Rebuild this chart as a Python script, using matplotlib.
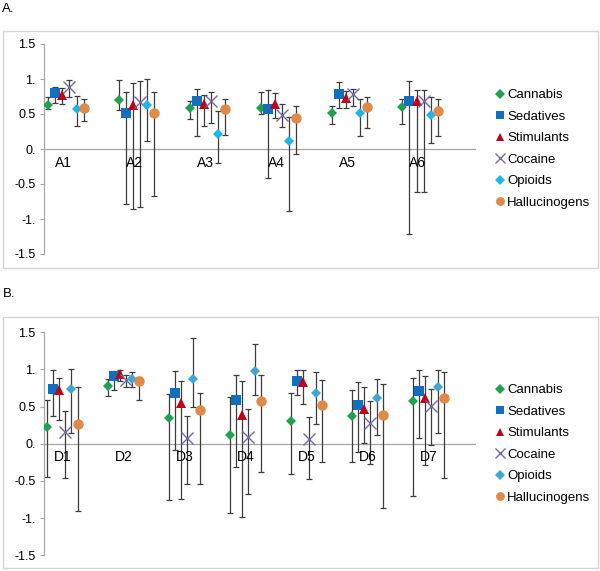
import numpy as np
import matplotlib
matplotlib.use('Agg')
import matplotlib.pyplot as plt
from matplotlib.patches import Rectangle

plt.rcParams['font.family'] = ['Liberation Sans', 'DejaVu Sans']

series = ['Cannabis', 'Sedatives', 'Stimulants', 'Cocaine', 'Opioids', 'Hallucinogens']

# panel A: point estimate, upper and lower end of the interval (one row per series)
cats_a = ['A1', 'A2', 'A3', 'A4', 'A5', 'A6']
mid_a = [
    [0.63, 0.70, 0.58, 0.58, 0.52, 0.60],
    [0.80, 0.52, 0.68, 0.57, 0.79, 0.69],
    [0.77, 0.63, 0.64, 0.64, 0.73, 0.69],
    [0.89, 0.67, 0.69, 0.49, 0.78, 0.69],
    [0.57, 0.63, 0.22, 0.12, 0.51, 0.49],
    [0.58, 0.51, 0.57, 0.45, 0.60, 0.55],
]
hi_a = [
    [0.74, 0.98, 0.69, 0.81, 0.62, 0.71],
    [0.89, 0.82, 0.86, 0.85, 0.96, 0.97],
    [0.87, 0.95, 0.77, 0.80, 0.83, 0.85],
    [0.98, 0.97, 0.81, 0.64, 0.86, 0.85],
    [0.76, 1.00, 0.55, 0.46, 0.72, 0.75],
    [0.72, 0.82, 0.72, 0.61, 0.75, 0.71],
]
lo_a = [
    [0.57, 0.56, 0.43, 0.50, 0.36, 0.36],
    [0.66, -0.78, 0.19, -0.42, 0.58, -1.21],
    [0.65, -0.85, 0.33, 0.45, 0.58, -0.61],
    [0.75, -0.83, 0.37, 0.31, 0.61, -0.61],
    [0.33, 0.12, -0.20, -0.88, 0.18, 0.09],
    [0.40, -0.67, 0.20, -0.07, 0.30, 0.18],
]

# panel B
cats_b = ['D1', 'D2', 'D3', 'D4', 'D5', 'D6', 'D7']
mid_b = [
    [0.22, 0.78, 0.35, 0.12, 0.31, 0.38, 0.57],
    [0.74, 0.91, 0.68, 0.59, 0.84, 0.52, 0.71],
    [0.72, 0.94, 0.55, 0.39, 0.83, 0.47, 0.62],
    [0.16, 0.86, 0.08, 0.09, 0.06, 0.28, 0.51],
    [0.74, 0.87, 0.87, 0.98, 0.69, 0.61, 0.77],
    [0.26, 0.84, 0.45, 0.57, 0.52, 0.39, 0.61],
]
hi_b = [
    [0.59, 0.87, 0.67, 0.63, 0.68, 0.72, 0.88],
    [0.99, 0.97, 0.98, 0.92, 0.99, 0.83, 0.99],
    [0.89, 0.99, 0.85, 0.85, 0.99, 0.76, 0.91],
    [0.44, 0.92, 0.37, 0.47, 0.36, 0.57, 0.74],
    [1.01, 0.97, 1.42, 1.34, 0.96, 0.87, 0.99],
    [0.76, 0.90, 0.68, 0.92, 0.86, 0.80, 0.96],
]
lo_b = [
    [-0.44, 0.64, -0.76, -0.93, -0.41, -0.24, -0.70],
    [0.37, 0.73, -0.09, -0.31, 0.66, -0.11, 0.08],
    [0.32, 0.84, -0.74, -0.99, 0.54, 0.01, -0.29],
    [-0.46, 0.77, -0.54, -0.67, -0.48, -0.27, -0.02],
    [0.15, 0.76, 0.49, 0.65, 0.27, 0.12, 0.14],
    [-0.91, 0.59, -0.54, -0.38, -0.25, -0.87, -0.46],
]

yticks = [1.5, 1.0, 0.5, 0.0, -0.5, -1.0, -1.5]
ytick_labels = ['1.5', '1.', '0.5', '0.', '-0.5', '-1.', '-1.5']

markers = ['D', 's', '^', 'x', 'D', 'o']
sizes = [5.5, 7, 7, 8, 5.5, 7.5]
colors_a = ['#1fa150', '#116fbf', '#c00018', '#7569a4', '#1fb4ea', '#e08a4a']
colors_b = ['#1fa150', '#116fbf', '#c00018', '#7569a4', '#40a6d4', '#e08a4a']

fig = plt.figure(figsize=(6, 5.71), dpi=100)

# light frames around each panel
fig.add_artist(Rectangle((3 / 600, 1 - 268 / 571), 595 / 600, 237 / 571,
                         transform=fig.transFigure, fill=False, ec='#d4d4d4', lw=1))
fig.add_artist(Rectangle((3 / 600, 1 - 568 / 571), 595 / 600, 251 / 571,
                         transform=fig.transFigure, fill=False, ec='#d4d4d4', lw=1))
fig.text(0.004, 1 - 9 / 571, 'A.', fontsize=9.5, va='center', ha='left')
fig.text(0.004, 1 - 294 / 571, 'B.', fontsize=9.5, va='center', ha='left')


def draw_panel(rect, cats, mid, hi, lo, colors, xlim, label_dx, label_y, leg_y):
    ax = fig.add_axes(rect)
    x = np.arange(len(cats))
    for k, name in enumerate(series):
        m = np.array(mid[k])
        err = [m - np.array(lo[k]), np.array(hi[k]) - m]
        xs = x + (k - 2.5) * 0.1
        ax.errorbar(xs, m, yerr=err, fmt='none', ecolor='#3c3c3c', elinewidth=0.9,
                    capsize=2.4, capthick=0.9, zorder=2)
        mew = 1.0 if markers[k] == 'x' else 0
        ax.plot(xs, m, linestyle='none', marker=markers[k], ms=sizes[k], color=colors[k],
                mew=mew, label=name, zorder=3)
    ax.set_xlim(*xlim)
    ax.set_ylim(-1.5, 1.5)
    ax.axhline(0, color='#a6a6a6', lw=0.9, zorder=1)
    for i, c in enumerate(cats):
        ax.text(i + label_dx, label_y, c, ha='center', va='center', fontsize=10)
    for s in ['top', 'right', 'bottom']:
        ax.spines[s].set_visible(False)
    ax.spines['left'].set_color('#a6a6a6')
    ax.spines['left'].set_linewidth(0.9)
    ax.set_xticks([])
    ax.set_yticks(yticks)
    ax.set_yticklabels(ytick_labels, fontsize=9)
    ax.tick_params(axis='y', length=3, color='#a6a6a6', pad=3)
    ax.set_facecolor('none')
    ax.legend(loc='center left', bbox_to_anchor=(1.035, leg_y), frameon=False, fontsize=9.5,
              handlelength=0.6, handletextpad=0.2, labelspacing=0.7, borderaxespad=0,
              markerscale=0.85)
    return ax


draw_panel([44 / 600, 1 - 254 / 571, 432 / 600, 210 / 571], cats_a, mid_a, hi_a, lo_a,
           colors_a, (-0.31, 5.79), -0.03, -0.2, 0.5)
draw_panel([44 / 600, 1 - 555.3 / 571, 432 / 600, 223 / 571], cats_b, mid_b, hi_b, lo_b,
           colors_b, (-0.30, 6.78), 0.0, -0.18, 0.5)

fig.savefig('out.png', dpi=100)
